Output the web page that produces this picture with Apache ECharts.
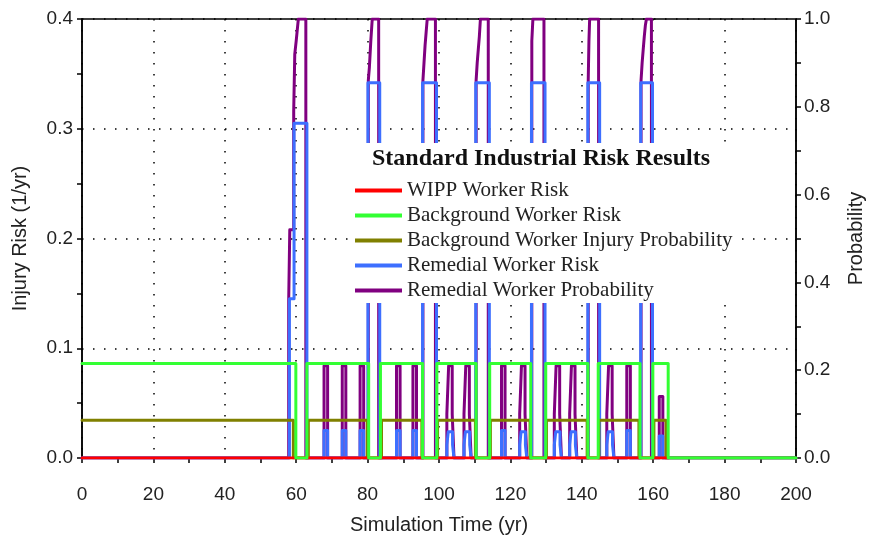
<!DOCTYPE html>
<html><head><meta charset="utf-8">
<script src="https://cdn.jsdelivr.net/npm/echarts/dist/echarts.min.js"></script>
<style>html,body{margin:0;padding:0;background:#fff}#c{width:874px;height:540px}</style>
</head><body><div id="c"></div>
<script>
// ---- Data (step series: value holds from time[i] until time[i+1]) ----
const chartTitle = 'Standard Industrial Risk Results';
const legendNames = ['WIPP Worker Risk', 'Background Worker Risk', 'Background Worker Injury Probability', 'Remedial Worker Risk', 'Remedial Worker Probability'];

const wippTime = [0, 164.2];
const wippRisk = [0, 0];

const bgRiskTime = [0, 59.9, 63.0, 80.3, 83.6, 95.4, 99.4, 110.4, 114.2, 125.7, 129.9, 141.7, 144.6, 156.3, 159.9, 164.2, 200];
const bgRisk     = [0.086, 0, 0.086, 0, 0.086, 0, 0.086, 0, 0.086, 0, 0.086, 0, 0.086, 0, 0.086, 0, 0];

const bgProbTime = [0, 59.2, 63.4, 79.9, 83.9, 95.2, 99.6, 110.2, 114.4, 125.5, 130.1, 141.5, 144.8, 156.0, 160.2, 163.6, 200];
const bgProb     = [0.086, 0, 0.086, 0, 0.086, 0, 0.086, 0, 0.086, 0, 0.086, 0, 0.086, 0, 0.086, 0, 0];

const remRiskTime = [0, 58.1, 59.4, 63.0,
  67.8, 68.8, 72.9, 73.9, 77.9, 78.9,
  80.1, 83.4,
  88.1, 89.1, 92.7, 93.7,
  95.4, 99.3,
  102.2, 102.6, 103.8, 104.2, 107.0, 107.4, 108.6, 109.0,
  110.3, 114.1,
  117.5, 118.5, 122.6, 123.0, 124.2, 124.6,
  125.9, 129.7,
  132.3, 132.7, 133.9, 134.3, 136.6, 137.0, 138.2, 138.6,
  141.7, 145.0,
  147.0, 147.4, 148.6, 149.0, 152.6, 153.6,
  156.5, 159.8,
  161.7, 162.7, 200];
const remRisk = [0, 0.145, 0.305, 0,
  0.025, 0, 0.025, 0, 0.025, 0,
  0.342, 0,
  0.025, 0, 0.025, 0,
  0.342, 0,
  0.012, 0.024, 0.012, 0, 0.012, 0.024, 0.012, 0,
  0.342, 0,
  0.025, 0, 0.012, 0.024, 0.012, 0,
  0.342, 0,
  0.012, 0.024, 0.012, 0, 0.012, 0.024, 0.012, 0,
  0.342, 0,
  0.012, 0.024, 0.012, 0, 0.025, 0,
  0.342, 0,
  0.02, 0, 0];

const remProbTime = [0, 57.9, 58.2, 59.3, 59.6, 60.0, 60.3, 60.6, 62.7,
  67.8, 68.8, 72.9, 73.9, 77.9, 78.9,
  80.2, 80.5, 80.7, 80.9, 81.1, 81.3, 83.1,
  88.1, 89.1, 92.7, 93.7,
  95.5, 95.8, 96.1, 96.4, 96.7, 99.0,
  102.2, 102.7, 103.7, 104.2, 107.0, 107.5, 108.5, 109.0,
  110.4, 110.7, 111.0, 111.3, 111.6, 113.8,
  117.5, 118.5, 122.6, 123.1, 124.1, 124.6,
  126.0, 126.3, 129.4,
  132.3, 132.8, 133.8, 134.3, 136.6, 137.1, 138.1, 138.6,
  141.8, 142.0, 142.2, 144.7,
  147.0, 147.5, 148.5, 149.0, 152.6, 153.6,
  156.6, 156.9, 157.2, 157.5, 157.8, 158.1, 159.5,
  161.7, 162.7, 200];
const remProb = [0, 0.36, 0.52, 0.79, 0.92, 0.95, 0.975, 1.0, 0,
  0.21, 0, 0.21, 0, 0.21, 0,
  0.86, 0.89, 0.92, 0.95, 0.975, 1.0, 0,
  0.21, 0, 0.21, 0,
  0.86, 0.90, 0.94, 0.97, 1.0, 0,
  0.10, 0.21, 0.10, 0, 0.10, 0.21, 0.10, 0,
  0.86, 0.90, 0.93, 0.96, 1.0, 0,
  0.21, 0, 0.10, 0.21, 0.10, 0,
  0.95, 1.0, 0,
  0.10, 0.21, 0.10, 0, 0.10, 0.21, 0.10, 0,
  0.86, 0.95, 1.0, 0,
  0.10, 0.21, 0.10, 0, 0.21, 0,
  0.86, 0.90, 0.93, 0.96, 0.985, 1.0, 0,
  0.14, 0, 0];

const xMin = 0, xMax = 200, xStep = 20;
const yLeftMax = 0.4, yLeftStep = 0.1;
const yRightMax = 1.0, yRightStep = 0.2;

// ---- Chart ----
const pairs = (t, v) => t.map((x, i) => [x, v[i]]);
const chart = echarts.init(document.getElementById('c'), null, { renderer: 'canvas' });
const axisFont = { fontFamily: 'Liberation Sans, Arial, sans-serif', fontSize: 19, color: '#222' };
const nameFont = { fontFamily: 'Liberation Sans, Arial, sans-serif', fontSize: 20, color: '#222' };
const dotted = { show: true, lineStyle: { color: '#000', width: 1.5, type: [1.5, 9.5] } };
const mkLine = (name, data, color, yIdx) => ({
  name, type: 'line', step: 'end', data, yAxisIndex: yIdx, showSymbol: false, symbol: 'none',
  lineStyle: { color, width: 3, cap: 'round', join: 'round' }, itemStyle: { color },
  emphasis: { disabled: true }, silent: true
});

chart.setOption({
  animation: false,
  backgroundColor: '#fff',
  grid: { left: 82, right: 73, top: 19, bottom: 77, show: true, borderColor: '#000', borderWidth: 1.5, backgroundColor: 'transparent' },
  xAxis: {
    type: 'value', min: xMin, max: xMax, interval: xStep,
    name: 'Simulation Time (yr)', nameLocation: 'middle', nameGap: 57, nameTextStyle: nameFont,
    axisLine: { lineStyle: { color: '#000', width: 1.5 } },
    axisTick: { show: true, length: 5, lineStyle: { color: '#000', width: 1.5 } },
    minorTick: { show: true, splitNumber: 2, length: 5, lineStyle: { color: '#000', width: 1.5 } },
    axisLabel: Object.assign({ margin: 27 }, axisFont),
    splitLine: dotted
  },
  yAxis: [{
    type: 'value', min: 0, max: yLeftMax, interval: yLeftStep, position: 'left',
    name: 'Injury Risk (1/yr)', nameLocation: 'middle', nameGap: 52, nameTextStyle: nameFont,
    axisLine: { show: true, lineStyle: { color: '#000', width: 1.5 } },
    axisTick: { show: true, length: 5, lineStyle: { color: '#000', width: 1.5 } },
    minorTick: { show: true, splitNumber: 2, length: 5, lineStyle: { color: '#000', width: 1.5 } },
    axisLabel: Object.assign({ margin: 9, formatter: v => v.toFixed(1) }, axisFont),
    splitLine: dotted
  }, {
    type: 'value', min: 0, max: yRightMax, interval: yRightStep, position: 'right',
    name: 'Probability', nameLocation: 'middle', nameGap: 50, nameTextStyle: nameFont,
    axisLine: { show: true, lineStyle: { color: '#000', width: 1.5 } },
    axisTick: { show: true, length: 5, lineStyle: { color: '#000', width: 1.5 } },
    minorTick: { show: true, splitNumber: 2, length: 5, lineStyle: { color: '#000', width: 1.5 } },
    axisLabel: Object.assign({ margin: 8, formatter: v => v.toFixed(1) }, axisFont),
    splitLine: { show: false }
  }],
  legend: {
    data: legendNames, orient: 'vertical', left: 350, top: 175, padding: 5,
    itemWidth: 47, itemHeight: 4, icon: 'rect', itemGap: 4, selectedMode: false,
    textStyle: { fontFamily: 'Liberation Serif, Times New Roman, serif', fontSize: 21, color: '#222', lineHeight: 20 },
    z: 60
  },
  graphic: [
    { type: 'rect', z: 50, shape: { x: 352, y: 143, width: 390, height: 160 }, style: { fill: '#fff' } },
    { type: 'text', z: 60, x: 541, y: 159, style: { text: chartTitle, fill: '#111', font: 'bold 24px "Liberation Serif", "Times New Roman", serif', textAlign: 'center', textVerticalAlign: 'middle' } }
  ],
  series: [
    mkLine(legendNames[4], pairs(remProbTime, remProb), '#800080', 1),
    mkLine(legendNames[3], pairs(remRiskTime, remRisk), '#3d6fff', 0),
    mkLine(legendNames[2], pairs(bgProbTime, bgProb), '#808000', 1),
    mkLine(legendNames[0], pairs(wippTime, wippRisk), '#ff0000', 0),
    mkLine(legendNames[1], pairs(bgRiskTime, bgRisk), '#33ff33', 0)
  ]
});
</script></body></html>
